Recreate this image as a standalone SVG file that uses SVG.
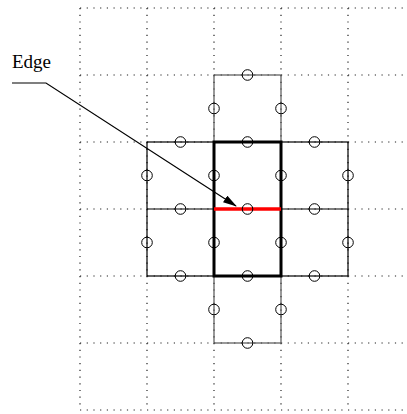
<svg xmlns="http://www.w3.org/2000/svg" width="407" height="414" viewBox="0 0 407 414">
<style>
.grid{stroke:#222;stroke-width:1.2;stroke-dasharray:1.2 5.5;fill:none}
.gray{stroke:#555;stroke-width:1.2;fill:none}
.thin{stroke:#000;stroke-width:1.2;fill:none}
.thick{stroke:#000;stroke-width:3;fill:none}
.pt{stroke:#000;stroke-width:1;fill:none}
text{font-family:"Liberation Serif",serif;font-size:19px;fill:#000}
</style>
<defs>
<marker id="ah" markerWidth="14" markerHeight="8" refX="13" refY="4" orient="auto" markerUnits="userSpaceOnUse">
<path d="M0,0 L14,4 L0,8 Z" fill="#000"/>
</marker>
</defs>
<rect width="407" height="414" fill="#fff"/>
<g id="grid">
<path class="grid" d="M80,8H407M80,75H407M80,142H407M80,209H407M80,276H407M80,343H407M80,410H407"/>
<path class="grid" d="M80,8V410M147,8V410M214,8V410M281,8V410M348,8V410"/>
</g>
<g id="cell-top"><rect class="gray" x="214" y="75" width="67" height="67"/></g>
<g id="cell-bottom"><rect class="gray" x="214" y="276" width="67" height="67"/></g>
<g id="cell-left"><rect class="thin" x="147" y="142" width="67" height="134"/><line class="thin" x1="147" y1="209" x2="214" y2="209"/></g>
<g id="cell-right"><rect class="thin" x="281" y="142" width="67" height="134"/><line class="thin" x1="281" y1="209" x2="348" y2="209"/></g>
<g id="cell-center"><rect class="thick" x="214" y="142" width="67" height="134"/></g>
<g id="edge"><line x1="214" y1="209" x2="281" y2="209" stroke="#f00" stroke-width="3.5"/></g>
<g id="points">
<circle class="pt" cx="247.5" cy="75" r="5.3"/>
<circle class="pt" cx="214" cy="108.5" r="5.3"/>
<circle class="pt" cx="281" cy="108.5" r="5.3"/>
<circle class="pt" cx="180.5" cy="142" r="5.3"/>
<circle class="pt" cx="247.5" cy="142" r="5.3"/>
<circle class="pt" cx="314.5" cy="142" r="5.3"/>
<circle class="pt" cx="147" cy="175.5" r="5.3"/>
<circle class="pt" cx="214" cy="175.5" r="5.3"/>
<circle class="pt" cx="281" cy="175.5" r="5.3"/>
<circle class="pt" cx="348" cy="175.5" r="5.3"/>
<circle class="pt" cx="180.5" cy="209" r="5.3"/>
<circle class="pt" cx="247.5" cy="209" r="5.3"/>
<circle class="pt" cx="314.5" cy="209" r="5.3"/>
<circle class="pt" cx="147" cy="242.5" r="5.3"/>
<circle class="pt" cx="214" cy="242.5" r="5.3"/>
<circle class="pt" cx="281" cy="242.5" r="5.3"/>
<circle class="pt" cx="348" cy="242.5" r="5.3"/>
<circle class="pt" cx="180.5" cy="276" r="5.3"/>
<circle class="pt" cx="247.5" cy="276" r="5.3"/>
<circle class="pt" cx="314.5" cy="276" r="5.3"/>
<circle class="pt" cx="214" cy="309.5" r="5.3"/>
<circle class="pt" cx="281" cy="309.5" r="5.3"/>
<circle class="pt" cx="247.5" cy="343" r="5.3"/>
</g>
<g id="label"><text x="12" y="68">Edge</text></g>
<g id="connectors">
<polyline class="thin" points="12,83 46,83 236,206" marker-end="url(#ah)"/>
</g>
</svg>
